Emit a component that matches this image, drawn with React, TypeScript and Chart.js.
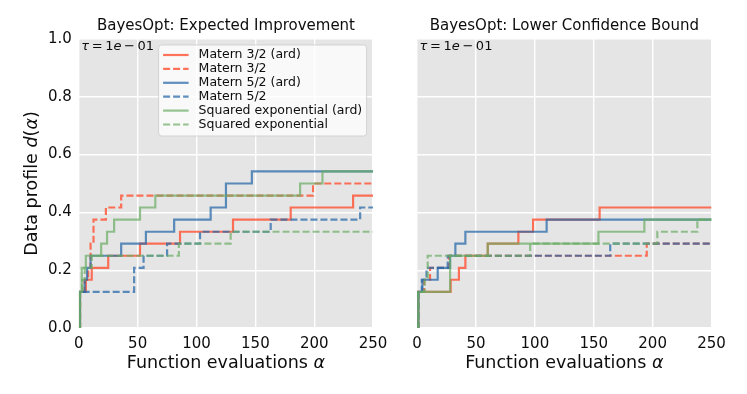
import React, { useEffect, useRef } from 'react';
import { Chart, registerables } from 'chart.js';

Chart.register(...registerables);

const FAMILY = '"DejaVu Sans", "Liberation Sans", sans-serif';

// ---------- data ----------
const seriesLabels = [
  'Matern 3/2 (ard)',
  'Matern 3/2',
  'Matern 5/2 (ard)',
  'Matern 5/2',
  'Squared exponential (ard)',
  'Squared exponential',
];
const seriesColors = [
  'rgba(255,80,50,0.8)',
  'rgba(255,80,50,0.8)',
  'rgba(40,105,170,0.75)',
  'rgba(40,105,170,0.75)',
  'rgba(105,172,100,0.7)',
  'rgba(105,172,100,0.7)',
];
const seriesDashed = [false, true, false, true, false, true];

const xTicks = [0, 50, 100, 150, 200, 250];
const yTicks = [0, 0.2, 0.4, 0.6, 0.8, 1.0];

// Expected Improvement panel
const eiM32ardX = [0, 1, 6, 11, 25, 52, 86, 131, 180, 233, 250];
const eiM32ardY = [0, 0.125, 0.167, 0.208, 0.25, 0.292, 0.333, 0.375, 0.417, 0.458, 0.458];
const eiM32X = [0, 1, 5, 8, 10, 12.5, 23, 36, 199, 250];
const eiM32Y = [0, 0.125, 0.167, 0.208, 0.292, 0.375, 0.417, 0.458, 0.5, 0.5];
const eiM52ardX = [0, 1, 5, 7, 10, 36, 57, 81, 112, 125, 147, 250];
const eiM52ardY = [0, 0.125, 0.167, 0.208, 0.25, 0.292, 0.333, 0.375, 0.417, 0.5, 0.542, 0.542];
const eiM52X = [0, 1, 47, 55, 75, 103, 163, 239, 250];
const eiM52Y = [0, 0.125, 0.208, 0.25, 0.292, 0.333, 0.375, 0.417, 0.417];
const eiSeArdX = [0, 1, 2.5, 6, 19, 24, 30, 52, 65, 188, 207, 250];
const eiSeArdY = [0, 0.125, 0.208, 0.25, 0.292, 0.333, 0.375, 0.417, 0.458, 0.5, 0.542, 0.542];
const eiSeX = [0, 1, 3, 5, 11, 85, 129, 250];
const eiSeY = [0, 0.125, 0.167, 0.208, 0.25, 0.292, 0.333, 0.333];

// Lower Confidence Bound panel
const lcbM32ardX = [0, 1, 28.5, 35.5, 41, 60, 86, 98.5, 155, 250];
const lcbM32ardY = [0, 0.125, 0.167, 0.208, 0.25, 0.292, 0.333, 0.375, 0.417, 0.417];
const lcbM32X = [0, 1, 6, 11, 27, 195, 250];
const lcbM32Y = [0, 0.125, 0.167, 0.208, 0.25, 0.292, 0.292];
const lcbM52ardX = [0, 1, 4.5, 17.5, 28, 32.5, 41, 110, 250];
const lcbM52ardY = [0, 0.125, 0.167, 0.208, 0.25, 0.292, 0.333, 0.375, 0.375];
const lcbM52X = [0, 1, 4, 8, 26, 164, 250];
const lcbM52Y = [0, 0.125, 0.167, 0.208, 0.25, 0.292, 0.292];
const lcbSeArdX = [0, 1, 28, 60, 154, 193, 250];
const lcbSeArdY = [0, 0.125, 0.25, 0.292, 0.333, 0.375, 0.375];
const lcbSeX = [0, 1, 6.5, 9, 96, 204, 238, 250];
const lcbSeY = [0, 0.125, 0.167, 0.25, 0.292, 0.333, 0.375, 0.375];

const eiSeries = [
  [eiM32ardX, eiM32ardY],
  [eiM32X, eiM32Y],
  [eiM52ardX, eiM52ardY],
  [eiM52X, eiM52Y],
  [eiSeArdX, eiSeArdY],
  [eiSeX, eiSeY],
];
const lcbSeries = [
  [lcbM32ardX, lcbM32ardY],
  [lcbM32X, lcbM32Y],
  [lcbM52ardX, lcbM52ardY],
  [lcbM52X, lcbM52Y],
  [lcbSeArdX, lcbSeArdY],
  [lcbSeX, lcbSeY],
];

const DASH = [7, 3];
const TEXT = '#0d0d0d';
const LINE_W = 2.2;

type Run = { t: string; it?: boolean };

function fontStr(r: Run, size: number) {
  return `${r.it ? 'italic ' : ''}${size}px ${FAMILY}`;
}

function drawRuns(ctx: CanvasRenderingContext2D, runs: Run[], x: number, y: number, size: number, align: 'left' | 'center') {
  let total = 0;
  const widths = runs.map((r) => {
    ctx.font = fontStr(r, size);
    const w = ctx.measureText(r.t).width;
    total += w;
    return w;
  });
  let cx = align === 'center' ? x - total / 2 : x;
  ctx.textAlign = 'left';
  runs.forEach((r, i) => {
    ctx.font = fontStr(r, size);
    ctx.fillText(r.t, cx, y);
    cx += widths[i];
  });
}

const panelPlugin = {
  id: 'panel',
  beforeDraw(chart: any) {
    const { ctx, chartArea: ca } = chart;
    ctx.save();
    ctx.fillStyle = '#E5E5E5';
    ctx.fillRect(ca.left, ca.top, ca.right - ca.left, ca.bottom - ca.top);
    ctx.restore();
  },
  afterDraw(chart: any) {
    const { ctx, chartArea: ca } = chart;
    const o = chart.options.plugins.panel;
    ctx.save();
    ctx.fillStyle = TEXT;
    ctx.textBaseline = 'middle';
    // title
    drawRuns(ctx, [{ t: o.title }], (ca.left + ca.right) / 2, 26, 15, 'center');
    // tau annotation
    ctx.textBaseline = 'alphabetic';
    drawRuns(
      ctx,
      [{ t: 'τ', it: true }, { t: '\u2009=\u20091' }, { t: 'e', it: true }, { t: '\u2009−\u200901' }],
      ca.left + 2.5,
      ca.top + 11,
      13,
      'left'
    );
    // x axis title
    ctx.textBaseline = 'middle';
    drawRuns(ctx, [{ t: 'Function evaluations ' }, { t: 'α', it: true }], (ca.left + ca.right) / 2, 363, 17.5, 'center');
    // y axis title
    if (o.yTitle) {
      ctx.save();
      ctx.translate(32, (ca.top + ca.bottom) / 2);
      ctx.rotate(-Math.PI / 2);
      drawRuns(
        ctx,
        [{ t: 'Data profile ' }, { t: 'd', it: true }, { t: '(' }, { t: 'α', it: true }, { t: ')' }],
        0,
        0,
        17.5,
        'center'
      );
      ctx.restore();
    }
    // legend
    if (o.legend) {
      const bw = 208;
      const bh = 91;
      const bx = ca.right - 6.5 - bw;
      const by = ca.top + 6;
      ctx.beginPath();
      if ((ctx as any).roundRect) (ctx as any).roundRect(bx, by, bw, bh, 3);
      else ctx.rect(bx, by, bw, bh);
      ctx.fillStyle = 'rgba(255,255,255,0.75)';
      ctx.fill();
      ctx.strokeStyle = 'rgba(204,204,204,0.8)';
      ctx.lineWidth = 1;
      ctx.stroke();
      seriesLabels.forEach((lab, i) => {
        const yy = by + 10 + i * 13.9;
        ctx.beginPath();
        ctx.setLineDash(seriesDashed[i] ? DASH : []);
        ctx.strokeStyle = seriesColors[i];
        ctx.lineWidth = LINE_W;
        ctx.moveTo(bx + 4.5, yy);
        ctx.lineTo(bx + 30, yy);
        ctx.stroke();
        ctx.setLineDash([]);
        ctx.fillStyle = TEXT;
        ctx.textBaseline = 'middle';
        drawRuns(ctx, [{ t: lab }], bx + 40, yy, 12.5, 'left');
      });
    }
    ctx.restore();
  },
};

function makeConfig(series: number[][][], title: string, showY: boolean, yWidth: number, padRight: number) {
  const datasets = series.map(([xs, ys], i) => ({
    label: seriesLabels[i],
    data: xs.map((x, j) => ({ x, y: ys[j] })),
    borderColor: seriesColors[i],
    backgroundColor: seriesColors[i],
    borderWidth: LINE_W,
    borderDash: seriesDashed[i] ? DASH : [],
    pointRadius: 0,
    stepped: 'before' as const,
    fill: false,
    order: series.length - i,
  }));
  return {
    type: 'line' as const,
    data: { datasets },
    plugins: [panelPlugin],
    options: {
      responsive: false,
      animation: false as const,
      devicePixelRatio: 1,
      layout: { padding: { top: 39, right: padRight, left: 0, bottom: 0 } },
      plugins: {
        legend: { display: false },
        tooltip: { enabled: false },
        title: { display: false },
        panel: { title, yTitle: showY, legend: showY },
      },
      scales: {
        x: {
          type: 'linear' as const,
          min: 0,
          max: 250,
          afterBuildTicks: (s: any) => {
            s.ticks = xTicks.map((v) => ({ value: v }));
          },
          ticks: {
            font: { size: 15, family: FAMILY },
            color: TEXT,
            padding: 7,
            maxRotation: 0,
            autoSkip: false,
            callback: (v: any) => String(v),
          },
          grid: { color: '#FFFFFF', lineWidth: 1.4, drawTicks: false },
          border: { display: false },
          afterFit: (s: any) => {
            s.height = 66;
          },
        },
        y: {
          type: 'linear' as const,
          min: 0,
          max: 1,
          afterBuildTicks: (s: any) => {
            s.ticks = yTicks.map((v) => ({ value: v }));
          },
          ticks: {
            display: showY,
            font: { size: 15, family: FAMILY },
            color: TEXT,
            padding: 7,
            callback: (v: any) => Number(v).toFixed(1),
          },
          grid: { color: '#FFFFFF', lineWidth: 1.4, drawTicks: false },
          border: { display: false },
          afterFit: (s: any) => {
            s.width = yWidth;
          },
        },
      },
    },
  };
}

function Panel(props: { series: number[][][]; title: string; showY: boolean; left: number; width: number; yWidth: number; padRight: number }) {
  const ref = useRef<HTMLCanvasElement | null>(null);
  useEffect(() => {
    if (!ref.current) return;
    const chart = new Chart(ref.current, makeConfig(props.series, props.title, props.showY, props.yWidth, props.padRight) as any);
    return () => chart.destroy();
  }, []);
  return (
    <canvas
      ref={ref}
      width={props.width}
      height={394}
      style={{ position: 'absolute', left: props.left, top: 0, width: props.width, height: 394 }}
    />
  );
}

export default function App() {
  return (
    <div style={{ position: 'absolute', left: 0, top: 0, width: 747, height: 394, background: '#FFFFFF', overflow: 'hidden' }}>
      <Panel series={eiSeries} title="BayesOpt: Expected Improvement" showY={true} left={0} width={395} yWidth={78.8} padRight={21.9} />
      <Panel series={lcbSeries} title="BayesOpt: Lower Confidence Bound" showY={false} left={395} width={352} yWidth={22.1} padRight={35.5} />
    </div>
  );
}
